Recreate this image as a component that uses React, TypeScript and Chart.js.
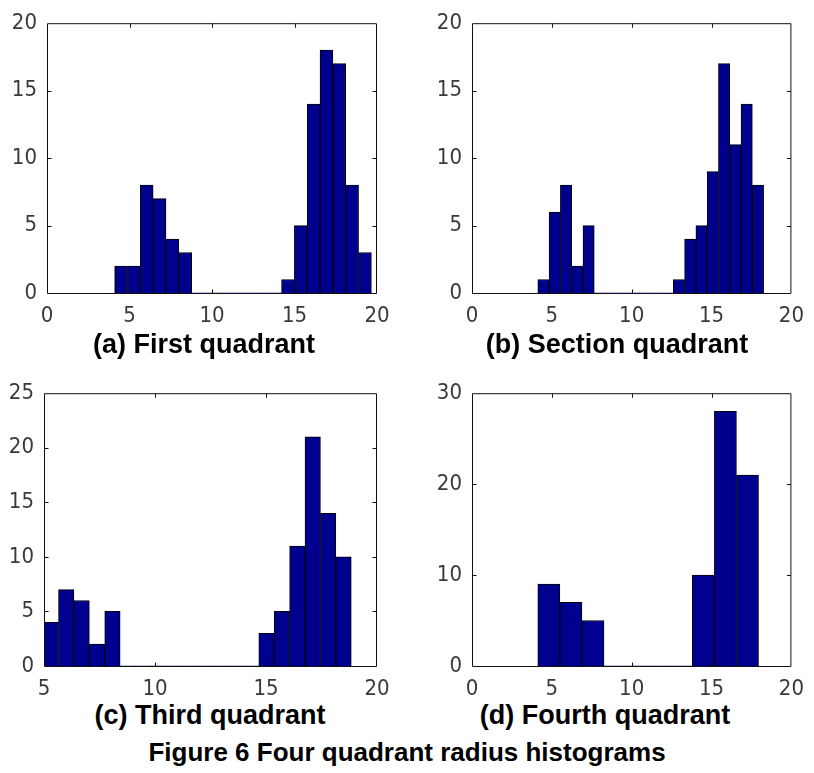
import React, { useEffect, useRef } from "react";
import { Chart, registerables } from "chart.js";

Chart.register(...registerables);

// ---- Data (bin centers and counts) ----
const binsA = [4.489, 5.267, 6.045, 6.823, 7.601, 8.379, 9.157, 9.935, 10.713, 11.491, 12.269, 13.047, 13.825, 14.603, 15.381, 16.159, 16.937, 17.715, 18.493, 19.271];
const countsA = [2, 2, 8, 7, 4, 3, 0, 0, 0, 0, 0, 0, 0, 1, 5, 14, 18, 17, 8, 3];

const binsB = [4.474, 5.181, 5.888, 6.595, 7.302, 8.009, 8.716, 9.423, 10.13, 10.837, 11.544, 12.251, 12.958, 13.665, 14.372, 15.079, 15.786, 16.493, 17.2, 17.907];
const countsB = [1, 6, 8, 2, 5, 0, 0, 0, 0, 0, 0, 0, 1, 4, 5, 9, 17, 11, 14, 8];

const binsC = [5.307, 6.001, 6.695, 7.389, 8.083, 8.777, 9.471, 10.165, 10.859, 11.553, 12.247, 12.941, 13.635, 14.329, 15.023, 15.717, 16.411, 17.105, 17.799, 18.493];
const countsC = [4, 7, 6, 2, 5, 0, 0, 0, 0, 0, 0, 0, 0, 0, 3, 5, 11, 21, 14, 10];

const binsD = [4.811, 6.193, 7.575, 8.957, 10.339, 11.721, 13.103, 14.485, 15.867, 17.249];
const countsD = [9, 7, 5, 0, 0, 0, 0, 10, 28, 21];

const captionA = "(a) First quadrant";
const captionB = "(b) Section quadrant";
const captionC = "(c) Third quadrant";
const captionD = "(d) Fourth quadrant";
const figureTitle = "Figure 6 Four quadrant radius histograms";

// ---- Styles ----
const BAR_FILL = "#00008F";
const BAR_EDGE = "#000000";
const AXIS_COLOR = "#111111";
const TICK_COLOR = "#3a3a3a";
const TICK_FONT = '"Liberation Sans Narrow", "DejaVu Sans Condensed", "Liberation Sans", Arial, sans-serif';
const CAPTION_FONT = '"Liberation Sans", Arial, Helvetica, sans-serif';

const boxPlugin = {
  id: "matlabBox",
  afterDatasetsDraw(chart: any) {
    const { ctx, chartArea: a, scales } = chart;
    const xs = scales.x;
    const ys = scales.y;
    const tl = 4;
    ctx.save();
    ctx.strokeStyle = AXIS_COLOR;
    ctx.lineWidth = 1;
    ctx.beginPath();
    const L = a.left + 0.5;
    const R = a.right - 0.5;
    const T = a.top + 0.5;
    const B = a.bottom + 0.5;
    ctx.moveTo(L, T);
    ctx.lineTo(R, T);
    ctx.lineTo(R, B);
    ctx.lineTo(L, B);
    ctx.closePath();
    xs.ticks.forEach((t: any) => {
      const px = Math.round(xs.getPixelForValue(t.value)) + 0.5;
      if (px - L < 2 || R - px < 2) return;
      ctx.moveTo(px, B);
      ctx.lineTo(px, B - tl);
      ctx.moveTo(px, T);
      ctx.lineTo(px, T + tl);
    });
    ys.ticks.forEach((t: any) => {
      const py = Math.round(ys.getPixelForValue(t.value)) + 0.5;
      if (py - T < 2 || B - py < 2) return;
      ctx.moveTo(L, py);
      ctx.lineTo(L + tl, py);
      ctx.moveTo(R, py);
      ctx.lineTo(R - tl, py);
    });
    ctx.stroke();
    ctx.restore();
  },
};

type PanelProps = {
  bins: number[];
  counts: number[];
  left: number;
  top: number;
  width: number;
  height: number;
  areaLeft: number;
  areaTop: number;
  areaRight: number;
  areaBottom: number;
  xMin: number;
  xMax: number;
  xStep: number;
  yMax: number;
  yStep: number;
};

function Panel(p: PanelProps) {
  const ref = useRef<HTMLCanvasElement | null>(null);
  useEffect(() => {
    if (!ref.current) return;
    const counts = p.counts;
    const chart = new Chart(ref.current, {
      type: "bar",
      data: {
        datasets: [
          {
            data: p.bins.map((b, i) => ({ x: b, y: counts[i] })),
            backgroundColor: BAR_FILL,
            borderColor: BAR_EDGE,
            borderWidth: (c: any) => {
              const v = counts[c.dataIndex] ?? 0;
              if (!v) return 0;
              return { top: 1, bottom: 0, left: 1, right: 1 };
            },
            borderSkipped: false,
            barPercentage: 1,
            categoryPercentage: 1,
            clip: 0,
          } as any,
        ],
      },
      options: {
        responsive: false,
        maintainAspectRatio: false,
        animation: false,
        devicePixelRatio: 1,
        layout: {
          padding: {
            left: 0,
            top: p.areaTop,
            right: p.width - p.areaRight,
            bottom: 0,
          },
        },
        plugins: {
          legend: { display: false },
          tooltip: { enabled: false },
          title: { display: false },
        },
        scales: {
          x: {
            type: "linear",
            min: p.xMin,
            max: p.xMax,
            offset: false,
            grid: { display: false, drawTicks: false, offset: false },
            border: { display: false },
            ticks: {
              stepSize: p.xStep,
              autoSkip: false,
              maxRotation: 0,
              padding: 10,
              color: TICK_COLOR,
              font: { family: TICK_FONT, size: 22 },
            },
            afterFit: (s: any) => {
              s.height = p.height - p.areaBottom;
            },
          },
          y: {
            type: "linear",
            min: 0,
            max: p.yMax,
            grid: { display: false, drawTicks: false },
            border: { display: false },
            ticks: {
              stepSize: p.yStep,
              autoSkip: false,
              padding: 10,
              color: TICK_COLOR,
              font: { family: TICK_FONT, size: 22 },
            },
            afterFit: (s: any) => {
              s.width = p.areaLeft;
            },
          },
        },
      } as any,
      plugins: [boxPlugin],
    });
    return () => chart.destroy();
  }, []);
  return (
    <canvas
      ref={ref}
      width={p.width}
      height={p.height}
      style={{ position: "absolute", left: p.left, top: p.top, width: p.width, height: p.height }}
    />
  );
}

function Caption({ text, left, top, width, size }: { text: string; left: number; top: number; width: number; size: number }) {
  return (
    <div
      style={{
        position: "absolute",
        left,
        top,
        width,
        textAlign: "center",
        fontFamily: CAPTION_FONT,
        fontWeight: "bold",
        fontSize: size,
        lineHeight: 1,
        color: "#000",
        whiteSpace: "nowrap",
      }}
    >
      {text}
    </div>
  );
}

export default function App() {
  return (
    <div style={{ position: "absolute", left: 0, top: 0, width: 814, height: 773, background: "#fff", overflow: "hidden" }}>
      <Panel bins={binsA} counts={countsA} left={0} top={0} width={400} height={330}
        areaLeft={47} areaTop={17} areaRight={377} areaBottom={293}
        xMin={0} xMax={20} xStep={5} yMax={20} yStep={5} />
      <Panel bins={binsB} counts={countsB} left={405} top={0} width={409} height={330}
        areaLeft={67} areaTop={15} areaRight={397} areaBottom={293}
        xMin={0} xMax={20} xStep={5} yMax={20} yStep={5} />
      <Panel bins={binsC} counts={countsC} left={0} top={370} width={400} height={330}
        areaLeft={44} areaTop={19} areaRight={377} areaBottom={296}
        xMin={5} xMax={20} xStep={5} yMax={25} yStep={5} />
      <Panel bins={binsD} counts={countsD} left={405} top={370} width={409} height={330}
        areaLeft={67} areaTop={21} areaRight={397} areaBottom={296}
        xMin={0} xMax={20} xStep={5} yMax={30} yStep={10} />
      <Caption text={captionA} left={4} top={331} width={400} size={27} />
      <Caption text={captionB} left={417} top={331} width={400} size={27} />
      <Caption text={captionC} left={10} top={702} width={400} size={27} />
      <Caption text={captionD} left={405} top={702} width={400} size={27} />
      <Caption text={figureTitle} left={0} top={739} width={814} size={26} />
    </div>
  );
}
